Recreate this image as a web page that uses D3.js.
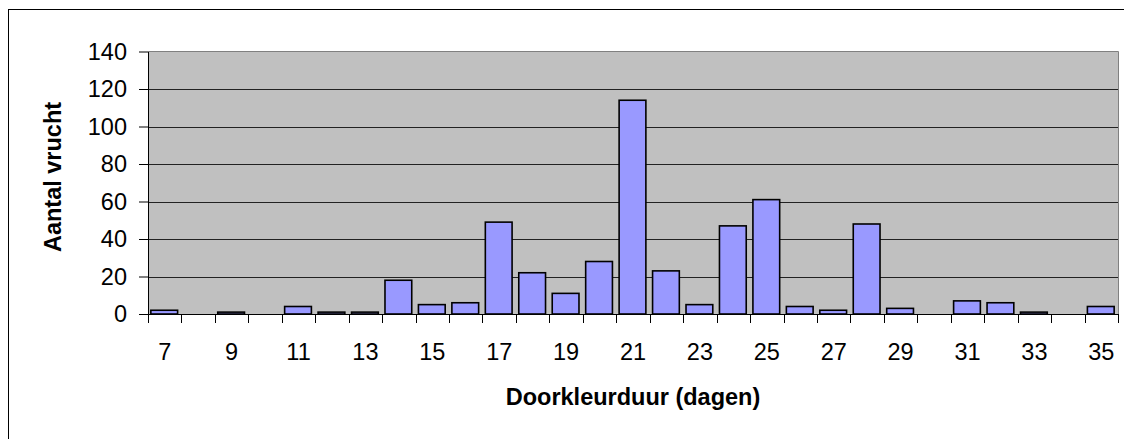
<!DOCTYPE html>
<html>
<head>
<meta charset="utf-8">
<script src="https://cdn.jsdelivr.net/npm/d3@7/dist/d3.min.js"></script>
<style>
  html, body { margin: 0; padding: 0; background: #fff; }
  svg text { font-family: "Liberation Sans", Arial, sans-serif; fill: #000; }
</style>
</head>
<body>
<div id="chart"></div>
<script>
// data
const days = [7, 8, 9, 10, 11, 12, 13, 14, 15, 16, 17, 18, 19, 20, 21,
              22, 23, 24, 25, 26, 27, 28, 29, 30, 31, 32, 33, 34, 35];
const counts = [2, 0, 1, 0, 4, 1, 1, 18, 5, 6, 49, 22, 11, 28, 114,
                23, 5, 47, 61, 4, 2, 48, 3, 0, 7, 6, 1, 0, 4];
const yTicks = [0, 20, 40, 60, 80, 100, 120, 140];
const xLabels = [7, 9, 11, 13, 15, 17, 19, 21, 23, 25, 27, 29, 31, 33, 35];
const xTitle = "Doorkleurduur (dagen)";
const yTitle = "Aantal vrucht";

const W = 1124, H = 439;
const plot = {left: 148, top: 51.5, right: 1118, bottom: 314};
const fs = "23.5px";

const svg = d3.select("#chart").append("svg")
    .attr("width", W)
    .attr("height", H);

// outer chart frame (runs off the right and bottom of the picture)
svg.append("rect")
    .attr("x", 8.5).attr("y", 9.5)
    .attr("width", W + 20).attr("height", H + 20)
    .attr("fill", "#fff")
    .attr("stroke", "#000")
    .attr("stroke-width", 1);

const x = d3.scaleBand()
    .domain(days)
    .range([plot.left, plot.right])
    .paddingInner(0.2)
    .paddingOuter(0.1);

const y = d3.scaleLinear()
    .domain([0, 140])
    .range([plot.bottom, plot.top]);

// plot background
svg.append("rect")
    .attr("x", plot.left).attr("y", plot.top)
    .attr("width", plot.right - plot.left)
    .attr("height", plot.bottom - plot.top)
    .attr("fill", "#c0c0c0");

// gridlines
svg.append("g").selectAll("line")
    .data(yTicks.filter(d => d > 0 && d < 140))
    .join("line")
    .attr("x1", plot.left).attr("x2", plot.right)
    .attr("y1", d => Math.round(y(d)) + 0.5)
    .attr("y2", d => Math.round(y(d)) + 0.5)
    .attr("stroke", "#222")
    .attr("stroke-width", 1);

// top and right border of plot area
svg.append("path")
    .attr("d", `M${plot.left},${plot.top}H${plot.right + 0.5}V${plot.bottom}`)
    .attr("fill", "none")
    .attr("stroke", "#808080")
    .attr("stroke-width", 1);

// bars
svg.append("g").selectAll("rect")
    .data(days.map((d, i) => ({day: d, n: counts[i]})))
    .join("rect")
    .attr("x", d => x(d.day) - 0.5)
    .attr("y", d => y(d.n))
    .attr("width", x.bandwidth())
    .attr("height", d => y(0) - y(d.n))
    .attr("fill", "#9999ff")
    .attr("stroke", "#000")
    .attr("stroke-width", 1.6);

// y axis
const yAxis = svg.append("g")
    .attr("transform", `translate(${plot.left},0)`)
    .call(d3.axisLeft(y).tickValues(yTicks).tickSize(9).tickSizeOuter(0).tickPadding(12));
yAxis.select(".domain").attr("stroke", "#000");
yAxis.selectAll("text").style("font-size", fs);

// x axis: labels every other day, tick marks at category boundaries
const xAxis = svg.append("g")
    .attr("transform", `translate(0,${plot.bottom})`)
    .call(d3.axisBottom(x).tickValues(xLabels).tickSize(0).tickPadding(29));
xAxis.select(".domain").remove();
xAxis.selectAll("text").style("font-size", fs);

const half = x.step() * x.paddingInner() / 2;
const bounds = days.map(d => x(d) - half).concat([x(days[days.length - 1]) + x.bandwidth() + half]);
svg.append("g").selectAll("line")
    .data(bounds)
    .join("line")
    .attr("x1", d => Math.round(d) + 0.5).attr("x2", d => Math.round(d) + 0.5)
    .attr("y1", plot.bottom).attr("y2", plot.bottom + 9)
    .attr("stroke", "#000");

svg.append("line")
    .attr("x1", plot.left).attr("x2", plot.right)
    .attr("y1", plot.bottom + 0.5).attr("y2", plot.bottom + 0.5)
    .attr("stroke", "#000");

// axis titles
svg.append("text")
    .attr("x", (plot.left + plot.right) / 2)
    .attr("y", 405)
    .attr("text-anchor", "middle")
    .style("font-size", fs)
    .style("font-weight", "bold")
    .text(xTitle);

svg.append("text")
    .attr("transform", "translate(61,177) rotate(-90)")
    .attr("text-anchor", "middle")
    .style("font-size", fs)
    .style("font-weight", "bold")
    .text(yTitle);
</script>
</body>
</html>
